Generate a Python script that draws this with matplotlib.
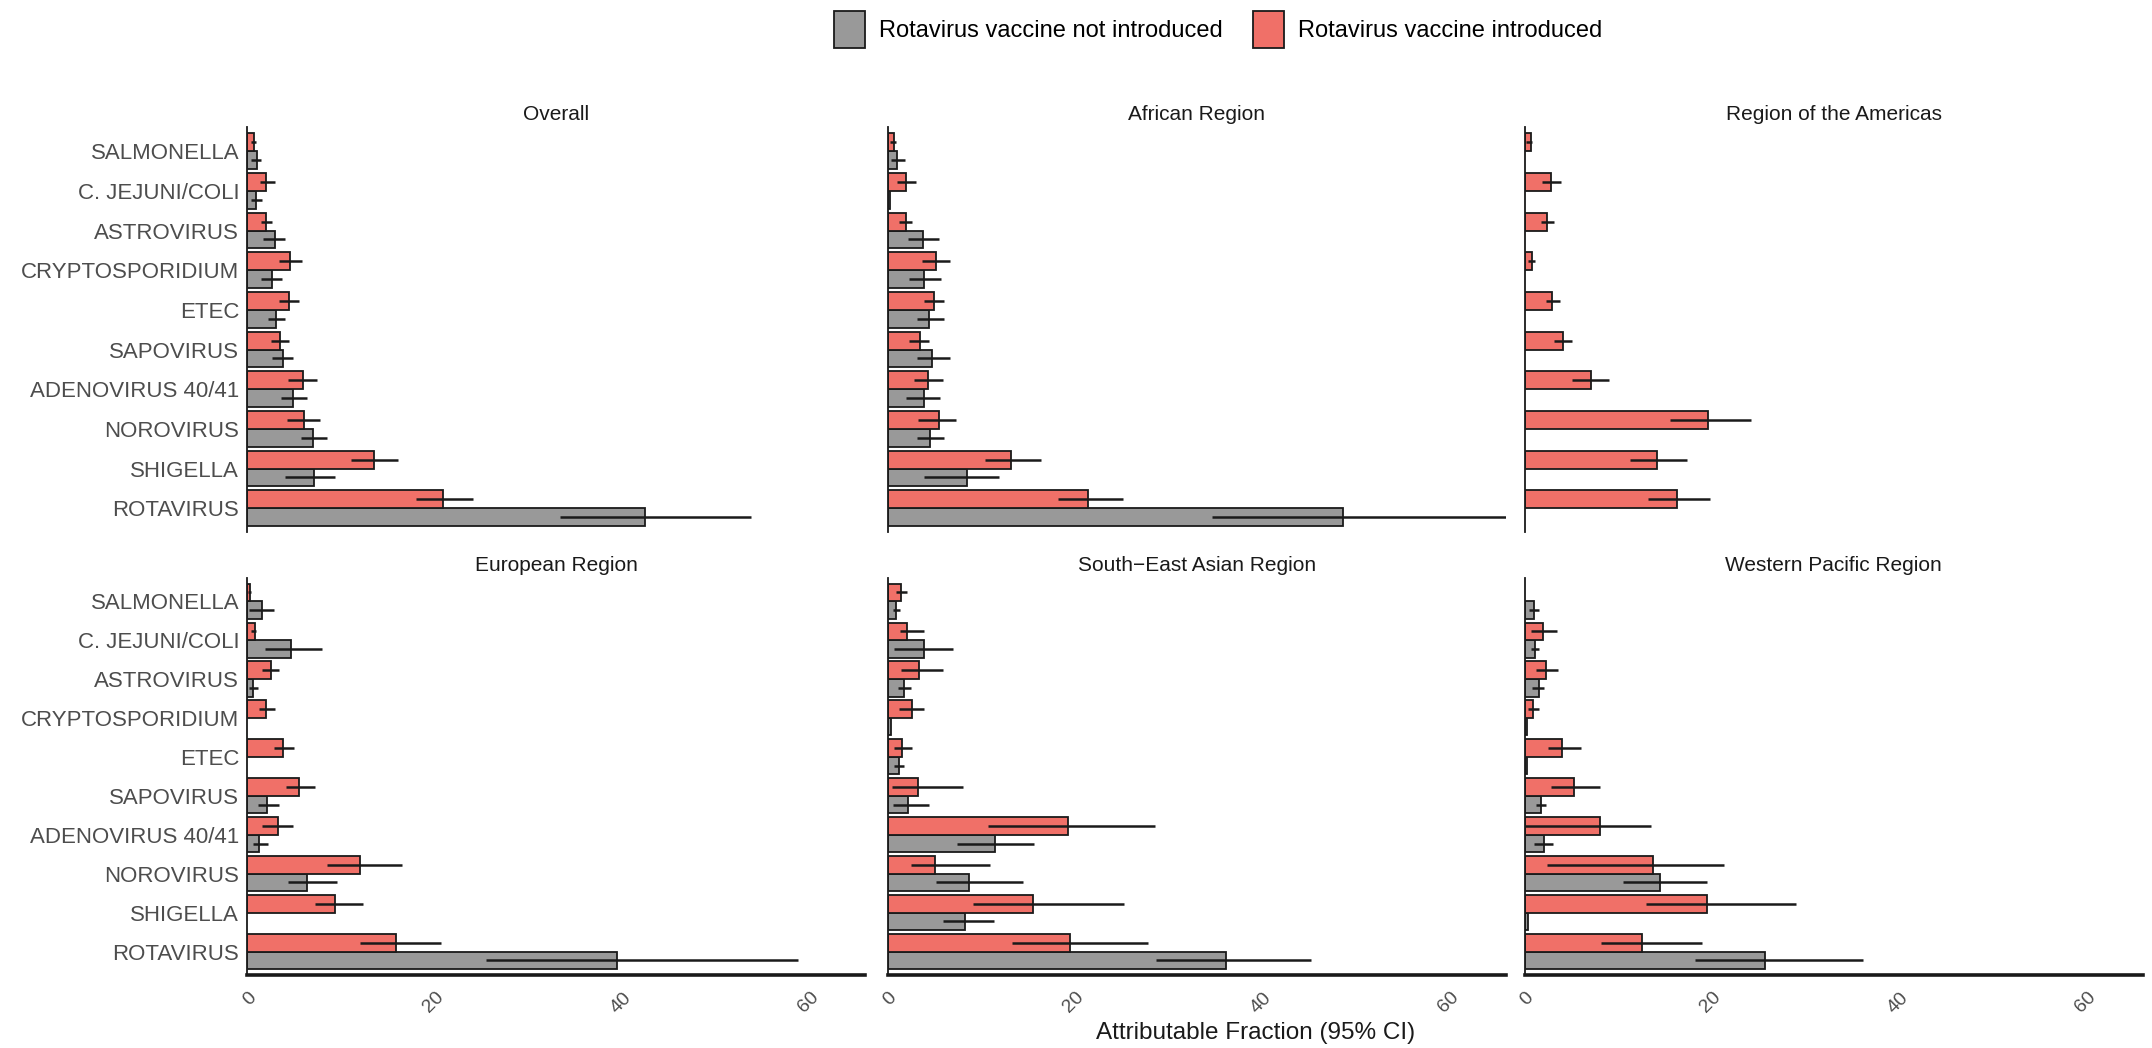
import numpy as np
import matplotlib.pyplot as plt
from matplotlib.patches import Patch

plt.rcParams['font.family'] = ['Liberation Sans', 'DejaVu Sans']

nan = np.nan

pathogens = ['SALMONELLA', 'C. JEJUNI/COLI', 'ASTROVIRUS', 'CRYPTOSPORIDIUM', 'ETEC',
             'SAPOVIRUS', 'ADENOVIRUS 40/41', 'NOROVIRUS', 'SHIGELLA', 'ROTAVIRUS']
regions = ['Overall', 'African Region', 'Region of the Americas',
           'European Region', 'South\u2212East Asian Region', 'Western Pacific Region']
series_labels = ['Rotavirus vaccine not introduced', 'Rotavirus vaccine introduced']

# attributable fraction (%) with 95% CI, vaccine not introduced
overall_no = [1.0, 0.9, 2.9, 2.6, 3.0, 3.8, 4.9, 7.0, 7.1, 42.4]
overall_no_lo = [0.4, 0.4, 1.7, 1.4, 2.2, 2.6, 3.6, 5.7, 4.0, 33.3]
overall_no_hi = [1.4, 1.5, 4.0, 3.7, 4.0, 4.9, 6.3, 8.5, 9.3, 53.7]
afr_no = [1.0, 0.2, 3.7, 3.9, 4.4, 4.7, 3.8, 4.5, 8.4, 48.6]
afr_no_lo = [0.3, nan, 2.1, 2.2, 3.1, 3.1, 1.9, 3.1, 3.8, 34.6]
afr_no_hi = [1.8, nan, 5.5, 5.7, 6.0, 6.6, 5.6, 6.0, 11.9, 65.9]
amr_no = [nan] * 10
amr_no_lo = [nan] * 10
amr_no_hi = [nan] * 10
eur_no = [1.6, 4.6, 0.6, nan, nan, 2.1, 1.2, 6.4, nan, 39.4]
eur_no_lo = [0.2, 1.9, 0.2, nan, nan, 1.1, 0.6, 4.3, nan, 25.4]
eur_no_hi = [2.8, 7.9, 1.1, nan, nan, 3.4, 2.2, 9.5, nan, 58.7]
sear_no = [0.9, 3.9, 1.7, 0.35, 1.2, 2.1, 11.4, 8.6, 8.2, 36.1]
sear_no_lo = [0.5, 0.7, 1.1, nan, 0.7, 0.5, 7.4, 5.1, 5.9, 28.6]
sear_no_hi = [1.3, 6.9, 2.5, nan, 1.7, 4.4, 15.6, 14.4, 11.3, 45.1]
wpr_no = [1.0, 1.1, 1.5, 0.2, 0.2, 1.7, 2.0, 14.4, 0.3, 25.6]
wpr_no_lo = [0.4, 0.6, 0.8, nan, nan, 1.2, 1.0, 10.5, nan, 18.2]
wpr_no_hi = [1.5, 1.5, 2.0, nan, nan, 2.2, 3.0, 19.4, nan, 36.1]

# vaccine introduced
overall_yes = [0.7, 2.0, 2.0, 4.5, 4.4, 3.5, 5.9, 6.0, 13.5, 20.9]
overall_yes_lo = [0.4, 1.3, 1.4, 3.4, 3.4, 2.5, 4.3, 4.2, 11.0, 18.0]
overall_yes_hi = [0.9, 2.9, 2.6, 5.8, 5.5, 4.4, 7.4, 7.7, 16.1, 24.1]
afr_yes = [0.6, 1.9, 1.9, 5.1, 4.9, 3.4, 4.3, 5.4, 13.1, 21.4]
afr_yes_lo = [0.2, 1.0, 1.2, 3.6, 3.8, 2.3, 2.8, 3.2, 10.4, 18.1]
afr_yes_hi = [0.9, 3.0, 2.6, 6.6, 6.0, 4.4, 5.9, 7.3, 16.3, 25.1]
amr_yes = [0.6, 2.8, 2.4, 0.8, 2.9, 4.1, 7.0, 19.5, 14.1, 16.2]
amr_yes_lo = [0.1, 1.8, 1.7, 0.3, 2.3, 3.1, 5.0, 15.5, 11.2, 13.1]
amr_yes_hi = [0.8, 3.8, 3.1, 1.1, 3.7, 5.0, 9.0, 24.1, 17.3, 19.7]
eur_yes = [0.3, 0.8, 2.5, 2.0, 3.8, 5.5, 3.3, 12.0, 9.3, 15.8]
eur_yes_lo = [0.1, 0.4, 1.5, 1.2, 2.8, 4.1, 1.6, 8.5, 7.2, 12.0]
eur_yes_hi = [0.4, 0.9, 3.4, 2.9, 5.0, 7.2, 4.9, 16.5, 12.3, 20.7]
sear_yes = [1.4, 2.0, 3.3, 2.6, 1.5, 3.2, 19.2, 5.0, 15.5, 19.4]
sear_yes_lo = [0.9, 1.3, 1.4, 1.2, 0.7, 0.4, 10.7, 2.5, 9.1, 13.2]
sear_yes_hi = [2.0, 3.8, 5.9, 3.8, 2.6, 8.0, 28.5, 10.9, 25.2, 27.8]
wpr_yes = [nan, 1.9, 2.3, 0.9, 4.0, 5.2, 8.0, 13.7, 19.4, 12.5]
wpr_yes_lo = [nan, 0.6, 1.2, 0.3, 2.5, 2.8, 0.0, 2.4, 12.9, 8.1]
wpr_yes_hi = [nan, 3.4, 3.5, 1.5, 6.0, 8.0, 13.5, 21.2, 28.9, 18.9]

no_vals = [overall_no, afr_no, amr_no, eur_no, sear_no, wpr_no]
no_lo = [overall_no_lo, afr_no_lo, amr_no_lo, eur_no_lo, sear_no_lo, wpr_no_lo]
no_hi = [overall_no_hi, afr_no_hi, amr_no_hi, eur_no_hi, sear_no_hi, wpr_no_hi]
yes_vals = [overall_yes, afr_yes, amr_yes, eur_yes, sear_yes, wpr_yes]
yes_lo = [overall_yes_lo, afr_yes_lo, amr_yes_lo, eur_yes_lo, sear_yes_lo, wpr_yes_lo]
yes_hi = [overall_yes_hi, afr_yes_hi, amr_yes_hi, eur_yes_hi, sear_yes_hi, wpr_yes_hi]

grey = '#999999'
salmon = '#F07068'
label_col = '#4d4d4d'

xmax = np.nanmax([np.nanmax(h) for h in no_hi + yes_hi])

fig = plt.figure(figsize=(21.52, 10.48), dpi=100)

lefts = [0.115, 0.4126, 0.7086]
width = 0.287
rows = [(0.4924, 0.386), (0.0697, 0.379)]

y = np.arange(len(pathogens))
bw = 0.45

for i, name in enumerate(regions):
    r, c = divmod(i, 3)
    ax = fig.add_axes([lefts[c], rows[r][0], width, rows[r][1]])

    # introduced bar sits above the not-introduced bar in each slot
    y_yes = y - bw / 2
    y_no = y + bw / 2
    ax.barh(y_no, no_vals[i], height=bw, color=grey, edgecolor='#1a1a1a', linewidth=1.3, zorder=2)
    ax.barh(y_yes, yes_vals[i], height=bw, color=salmon, edgecolor='#1a1a1a', linewidth=1.3, zorder=2)
    ax.hlines(y_no, no_lo[i], no_hi[i], color='#1a1a1a', linewidth=1.8, zorder=3)
    ax.hlines(y_yes, yes_lo[i], yes_hi[i], color='#1a1a1a', linewidth=1.8, zorder=3)

    ax.set_xlim(0, xmax)
    ax.set_ylim(len(pathogens) - 0.4, -0.6)
    ax.set_title(name, fontsize=15, color='#1a1a1a', pad=5)

    for s in ['top', 'right']:
        ax.spines[s].set_visible(False)
    ax.spines['left'].set_linewidth(1.3)
    ax.spines['left'].set_color('#1a1a1a')

    ax.set_yticks(y)
    if c == 0:
        ax.set_yticklabels(pathogens, fontsize=16, color=label_col)
    else:
        ax.set_yticklabels([])
    ax.tick_params(axis='y', length=0, pad=6)

    ax.set_xticks([0, 20, 40, 60])
    if r == 1:
        ax.spines['bottom'].set_linewidth(2.6)
        ax.spines['bottom'].set_color('#1a1a1a')
        ax.set_xticklabels(['0', '20', '40', '60'], rotation=45, fontsize=14,
                           color=label_col, ha='right', va='top', rotation_mode='anchor')
        ax.tick_params(axis='x', length=0, pad=10)
    else:
        ax.spines['bottom'].set_visible(False)
        ax.tick_params(axis='x', length=0, labelbottom=False)

fig.text(0.5835, 0.004, 'Attributable Fraction (95% CI)', ha='center', va='bottom',
         fontsize=17.5, color='#1a1a1a')

handles = [Patch(facecolor=grey, edgecolor='#1a1a1a', linewidth=1.3),
           Patch(facecolor=salmon, edgecolor='#1a1a1a', linewidth=1.3)]
fig.legend(handles, series_labels, loc='center', bbox_to_anchor=(0.566, 0.972), ncol=2,
           frameon=False, fontsize=17, handlelength=1.3, handleheight=2.0,
           handletextpad=0.6, columnspacing=1.3)

fig.savefig('out.png', dpi=100, facecolor='white')
